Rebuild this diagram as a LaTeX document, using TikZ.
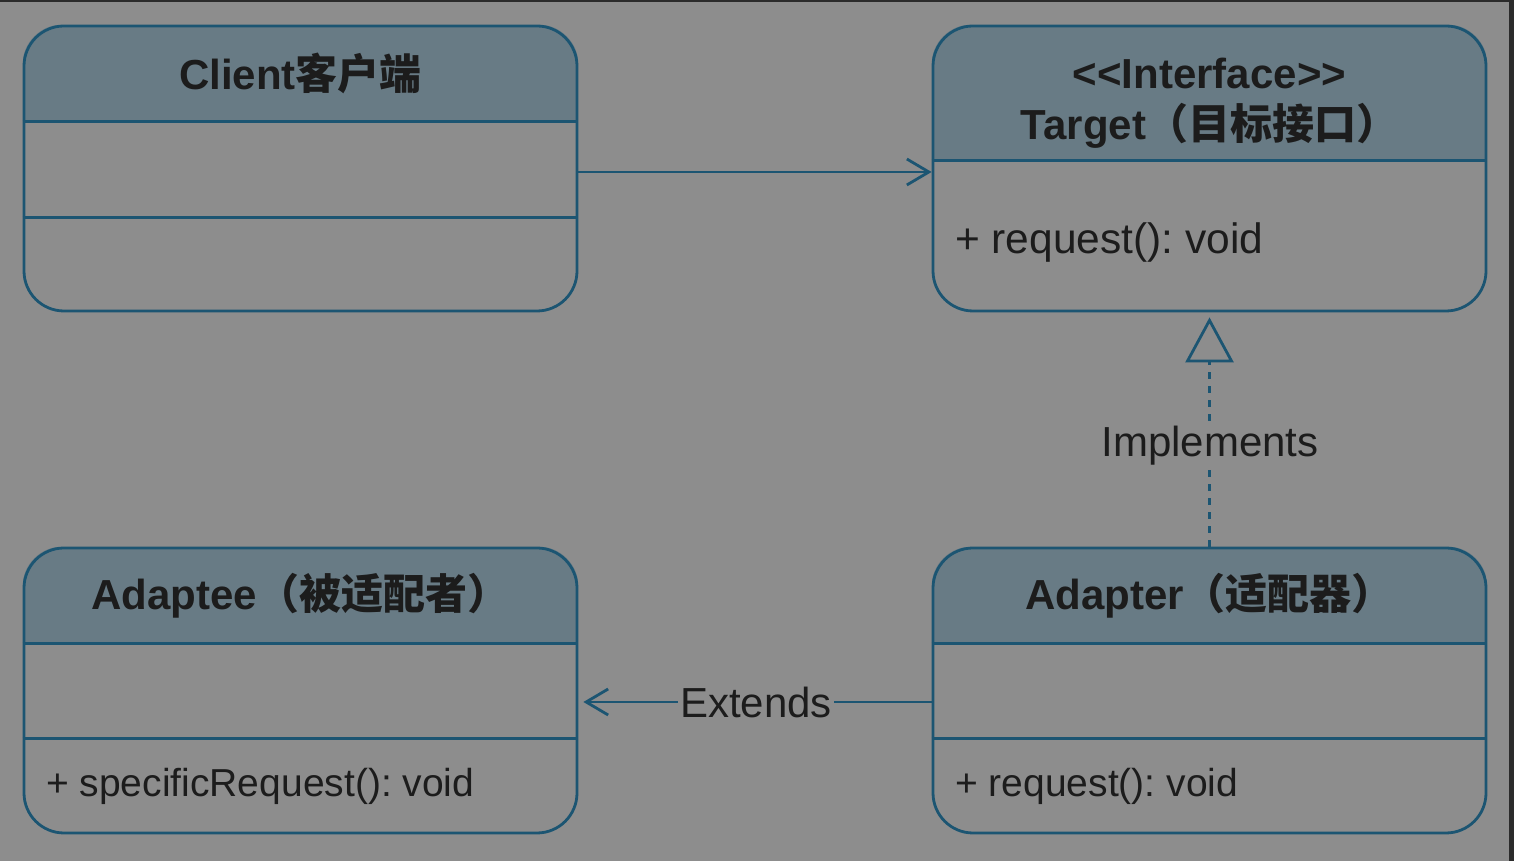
\documentclass[tikz,border=0pt]{standalone}
\usepackage{fontspec}
\setmainfont{Liberation Sans}
\newfontfamily\cjk{Noto Sans CJK SC}
\usetikzlibrary{arrows.meta,calc}
\definecolor{bgc}{HTML}{8D8D8D}
\definecolor{hdr}{HTML}{687B85}
\definecolor{edgec}{HTML}{1C5572}
\definecolor{txt}{HTML}{1C1C1C}
\definecolor{frame}{HTML}{2B2B2B}
\pgfdeclarelayer{back}
\pgfdeclarelayer{mid}
\pgfsetlayers{back,mid,main}
\frenchspacing
\newcommand\hdrfill[2]{%
  \begin{pgfonlayer}{mid}
    \begin{scope}
      \clip[rounded corners=40pt] (#1.south west) rectangle (#1.north east);
      \fill[hdr] (#1.north west) rectangle ($(#1.north east)+(0,-#2)$);
    \end{scope}
  \end{pgfonlayer}
  \draw[conn] ($(#1.north west)+(0,-#2)$) -- ($(#1.north east)+(0,-#2)$);
}
\begin{document}
\begin{tikzpicture}[x=1pt,y=1pt,
  umlbox/.style={draw=edgec, line width=2.8pt, rounded corners=40pt,
    minimum width=553pt, minimum height=285pt, inner sep=0pt},
  hdrtext/.style={font=\fontsize{42}{51}\selectfont\bfseries, text=txt, align=center, inner sep=0pt},
  bodytext/.style={font=\fontsize{39}{46}\selectfont, text=txt, anchor=west, inner sep=0pt},
  conn/.style={draw=edgec, line width=2.8pt},
  lbl/.style={font=\fontsize{42}{50}\selectfont, text=txt, fill=bgc, inner sep=2pt},
  opentip/.style={-{Straight Barb[length=22pt,width=26pt]}}
]
\begin{pgfonlayer}{back}
  \fill[bgc] (0,0) rectangle (1514,861);
  \fill[frame] (0,859) rectangle (1514,861);
  \fill[frame] (1509,0) rectangle (1514,861);
\end{pgfonlayer}
\useasboundingbox (0,0) rectangle (1514,861);

\node[umlbox] (client) at (300.5,692.5) {};
\node[umlbox] (target) at (1209.5,692.5) {};
\node[umlbox] (adaptee) at (300.5,170.5) {};
\node[umlbox] (adapter) at (1209.5,170.5) {};

\hdrfill{client}{97}
\draw[conn] ($(client.north west)+(0,-193)$) -- ($(client.north east)+(0,-193)$);
\hdrfill{target}{136}
\hdrfill{adaptee}{97}
\draw[conn] ($(adaptee.north west)+(0,-192)$) -- ($(adaptee.north east)+(0,-192)$);
\hdrfill{adapter}{97}
\draw[conn] ($(adapter.north west)+(0,-192)$) -- ($(adapter.north east)+(0,-192)$);

\node[hdrtext] (clientname) at ($(client.north)+(0,-48.5)$) {Client{\cjk 客户端}};
\node[hdrtext] (targetname) at ($(target.north)+(0,-78.5)$) {{<}{<}Interface{>}{>}\\Target{\cjk （目标接口）}};
\node[hdrtext] (adapteename) at ($(adaptee.north)+(0,-49.5)$) {Adaptee{\cjk （被适配者）}};
\node[hdrtext] (adaptername) at ($(adapter.north)+(0,-49.5)$) {Adapter{\cjk （适配器）}};

\node[bodytext, font=\fontsize{42.5}{50}\selectfont] (targetop) at (955,618) {+ request(): void};
\node[bodytext] (adapteeop) at (46,75) {+ specificRequest(): void};
\node[bodytext] (adapterop) at (955,75) {+ request(): void};

\draw[conn, opentip] ([yshift=-3.5pt]client.east) -- ([yshift=-3.5pt]target.west);
\draw[conn, opentip] ([yshift=-11.5pt]adapter.west) -- ([xshift=5pt,yshift=-11.5pt]adaptee.east);
\node[lbl] (extends) at (756,159) {Extends};
\draw[conn, line width=3.6pt, dash pattern=on 7pt off 7pt, -{Triangle[open,length=45pt,width=48pt,line width=2.8pt]}]
  (adapter.north) -- ([yshift=-5pt]target.south);
\node[lbl] (implements) at (1210,415) {Implements};
\end{tikzpicture}
\end{document}
